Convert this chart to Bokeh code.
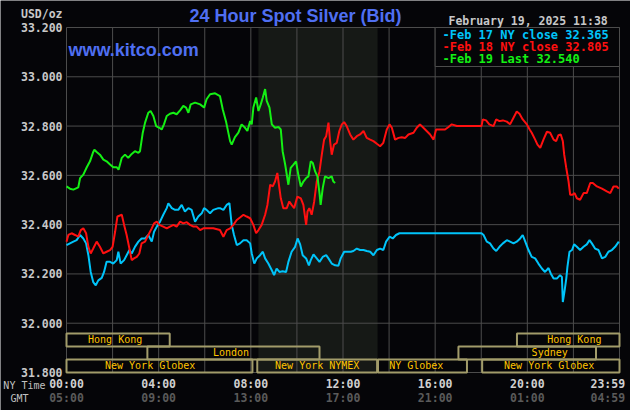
from bokeh.plotting import figure
from bokeh.models import BoxAnnotation, ColumnDataSource
from bokeh.core.properties import value
from bokeh.embed import file_html
from bokeh.resources import INLINE

# ---------------- data ----------------
y_ticks = [31.8, 32.0, 32.2, 32.4, 32.6, 32.8, 33.0, 33.2]
y_tick_labels = ["31.800", "32.000", "32.200", "32.400", "32.600", "32.800", "33.000", "33.200"]
grid_hours = [0, 2, 4, 6, 8, 10, 12, 14, 16, 18, 20, 22, 24]
time_ticks = [0, 4, 8, 12, 16, 20, 23.983]
ny_time_labels = ["00:00", "04:00", "08:00", "12:00", "16:00", "20:00", "23:59"]
gmt_labels = ["05:00", "09:00", "13:00", "17:00", "21:00", "01:00", "04:59"]

# Feb 17 (cyan)
feb17_hours = [0.0, 0.15, 0.30, 0.44, 0.59, 0.73, 0.85, 0.95, 1.05, 1.16,
               1.27, 1.38, 1.53, 1.63, 1.74, 1.89, 2.03, 2.18, 2.25, 2.35,
               2.50, 2.61, 2.73, 2.83, 2.97, 3.12, 3.26, 3.41, 3.55, 3.70,
               3.80, 3.92, 4.06, 4.20, 4.35, 4.42, 4.57, 4.71, 4.85, 5.00,
               5.14, 5.29, 5.43, 5.58, 5.72, 5.87, 5.97, 6.08, 6.23, 6.37,
               6.59,
               6.66, 6.81, 6.95, 7.07, 7.17, 7.27, 7.39, 7.53, 7.68, 7.82,
               7.97, 8.04, 8.15, 8.26, 8.40, 8.52, 8.62, 8.76, 8.91, 9.01,
               9.12, 9.24, 9.38, 9.53, 9.63, 9.77, 9.92, 10.03, 10.14, 10.25,
               10.40, 10.52, 10.60, 10.72, 10.86, 10.98, 11.12, 11.27, 11.37, 11.51,
               11.66, 11.80, 11.90, 12.05, 12.19, 12.34, 12.45, 12.60, 12.74, 12.89,
               13.03, 13.18, 13.32, 13.47, 13.61, 13.75, 13.87, 14.02, 14.16, 14.30,
               14.45, 14.55,
               18.01, 18.10, 18.24, 18.38, 18.53, 18.65, 18.79, 18.94, 19.11, 19.25,
               19.40, 19.54, 19.69, 19.80, 19.91, 20.05, 20.19, 20.34, 20.48, 20.63,
               20.77, 20.92, 21.02, 21.14, 21.28, 21.42, 21.50, 21.54, 21.61, 21.69,
               21.74, 21.83, 21.94, 22.03, 22.15, 22.29, 22.44, 22.58, 22.70, 22.80,
               22.94, 23.09, 23.24, 23.38, 23.52, 23.67, 23.81, 23.97]
feb17_price = [32.317, 32.324, 32.331, 32.337, 32.358, 32.344, 32.324, 32.276, 32.208, 32.167,
               32.154, 32.174, 32.184, 32.208, 32.249, 32.249, 32.242, 32.256, 32.290, 32.242,
               32.256, 32.276, 32.297, 32.283, 32.310, 32.331, 32.344, 32.344, 32.358, 32.331,
               32.371, 32.392, 32.412, 32.440, 32.467, 32.487, 32.467, 32.460, 32.460, 32.480,
               32.453, 32.467, 32.460, 32.412, 32.433, 32.446, 32.467, 32.460, 32.446, 32.460,
               32.467,
               32.467, 32.460, 32.480, 32.487, 32.399, 32.358, 32.317, 32.324, 32.337, 32.337,
               32.324, 32.283, 32.242, 32.263, 32.276, 32.290, 32.263, 32.242, 32.215, 32.195,
               32.222, 32.208, 32.211, 32.208, 32.249, 32.290, 32.310, 32.344, 32.320, 32.276,
               32.263, 32.235, 32.256, 32.279, 32.263, 32.249, 32.269, 32.276, 32.263, 32.242,
               32.235, 32.233, 32.263, 32.290, 32.290, 32.290, 32.293, 32.303, 32.297, 32.297,
               32.293, 32.290, 32.276, 32.297, 32.303, 32.297, 32.331, 32.351, 32.344, 32.358,
               32.365, 32.365,
               32.365, 32.358, 32.331, 32.324, 32.303, 32.293, 32.310, 32.324, 32.337, 32.331,
               32.324, 32.331, 32.344, 32.358, 32.331, 32.297, 32.269, 32.263, 32.242, 32.222,
               32.208, 32.224, 32.201, 32.181, 32.181, 32.195, 32.188, 32.086, 32.127, 32.181,
               32.229, 32.290, 32.297, 32.320, 32.310, 32.297, 32.310, 32.320, 32.337, 32.324,
               32.303, 32.297, 32.263, 32.269, 32.290, 32.297, 32.310, 32.331]

# Feb 18 (red)
feb18_hours = [0.0, 0.08, 0.22, 0.37, 0.51, 0.62, 0.73, 0.85, 0.95, 1.05,
               1.16, 1.31, 1.45, 1.60, 1.74, 1.89, 2.00, 2.11, 2.21, 2.40,
               2.50, 2.61, 2.73, 2.83, 2.93, 3.05, 3.16, 3.26, 3.41, 3.55,
               3.70, 3.80, 3.92, 4.03, 4.20, 4.35, 4.49, 4.64, 4.78, 4.93,
               5.07, 5.22, 5.36, 5.51, 5.65, 5.80, 5.94, 6.16, 6.37, 6.66,
               6.81, 6.95, 7.10, 7.24, 7.39, 7.53, 7.68, 7.82, 7.97, 8.11,
               8.23, 8.33, 8.47, 8.62, 8.72, 8.84, 8.95, 9.05, 9.15, 9.24,
               9.30, 9.41, 9.56, 9.67, 9.77, 9.88, 10.02, 10.17, 10.28, 10.40,
               10.46, 10.54, 10.64, 10.75, 10.86, 10.98, 11.08, 11.18, 11.27, 11.37,
               11.44, 11.51, 11.61, 11.73, 11.84, 11.95, 12.05, 12.16, 12.31, 12.45,
               12.60, 12.74, 12.89, 13.03, 13.18, 13.32, 13.47, 13.61, 13.75, 13.90,
               14.02, 14.12, 14.26, 14.41, 14.55, 14.70, 14.84,
               15.06, 15.20, 15.34, 15.49, 15.63, 15.78, 15.93, 16.04, 16.22, 16.43,
               16.58, 16.72, 16.94, 17.23, 17.51, 18.01, 18.07, 18.21, 18.35, 18.53,
               18.65, 18.79, 18.94, 19.11, 19.25, 19.40, 19.54, 19.66, 19.80, 19.98,
               20.10, 20.19, 20.34, 20.44, 20.56, 20.70, 20.85, 20.99, 21.14, 21.25,
               21.35, 21.45, 21.54, 21.60, 21.69, 21.79, 21.86, 21.96, 22.05, 22.15,
               22.29, 22.44, 22.58, 22.73, 22.84, 23.02, 23.24, 23.45, 23.60, 23.74,
               23.88, 23.97]
feb18_price = [32.331, 32.358, 32.365, 32.358, 32.351, 32.378, 32.385, 32.365, 32.310, 32.283,
               32.303, 32.331, 32.310, 32.283, 32.290, 32.297, 32.310, 32.371, 32.433, 32.440,
               32.399, 32.358, 32.303, 32.256, 32.263, 32.269, 32.283, 32.324, 32.331, 32.358,
               32.385, 32.405, 32.412, 32.399, 32.392, 32.385, 32.392, 32.399, 32.392, 32.412,
               32.405, 32.410, 32.399, 32.392, 32.392, 32.378, 32.385, 32.385, 32.385, 32.378,
               32.351, 32.378, 32.385, 32.399, 32.419, 32.429, 32.440, 32.433, 32.426, 32.399,
               32.365, 32.378, 32.399, 32.440, 32.480, 32.562, 32.555, 32.575, 32.610, 32.548,
               32.507, 32.467, 32.467, 32.494, 32.480, 32.467, 32.514, 32.507, 32.480, 32.399,
               32.453, 32.467, 32.440, 32.494, 32.575, 32.616, 32.684, 32.745, 32.759, 32.814,
               32.739, 32.684, 32.725, 32.732, 32.780, 32.807, 32.816, 32.800, 32.766, 32.745,
               32.759, 32.766, 32.780, 32.752, 32.745, 32.739, 32.728, 32.718, 32.732, 32.786,
               32.807, 32.793, 32.745, 32.752, 32.755, 32.752, 32.766,
               32.773, 32.793, 32.807, 32.793, 32.780, 32.766, 32.745, 32.786, 32.786, 32.786,
               32.796, 32.807, 32.800, 32.800, 32.800, 32.800, 32.827, 32.823, 32.807, 32.800,
               32.827, 32.820, 32.823, 32.818, 32.807, 32.834, 32.859, 32.850, 32.827, 32.807,
               32.786, 32.773, 32.745, 32.725, 32.712, 32.745, 32.777, 32.773, 32.745, 32.739,
               32.763, 32.766, 32.739, 32.684, 32.630, 32.575, 32.521, 32.521, 32.528, 32.507,
               32.501, 32.528, 32.528, 32.569, 32.569, 32.555, 32.546, 32.535, 32.528, 32.555,
               32.555, 32.546]

# Feb 19 (green)
feb19_hours = [0.0, 0.15, 0.30, 0.51, 0.59, 0.73, 0.88, 1.02, 1.16, 1.21,
               1.31, 1.45, 1.60, 1.74, 1.89, 2.03, 2.18, 2.26, 2.40, 2.54,
               2.68, 2.83, 2.97, 3.12, 3.19, 3.31, 3.41, 3.55, 3.65, 3.77,
               3.89, 4.03, 4.13, 4.23, 4.35, 4.49, 4.64, 4.78, 4.93, 5.07,
               5.19, 5.29, 5.39, 5.58, 5.80, 5.97, 6.08, 6.23, 6.45, 6.66,
               6.78, 6.92, 7.10, 7.17, 7.31, 7.46, 7.60, 7.75, 7.85, 7.97,
               8.04, 8.11, 8.23, 8.33, 8.43, 8.52, 8.62, 8.69, 8.81, 8.91,
               9.05, 9.20, 9.30, 9.38, 9.49, 9.63, 9.73, 9.85, 9.96, 10.06,
               10.17, 10.28, 10.40, 10.50, 10.60, 10.69, 10.79, 10.89, 10.98, 11.03,
               11.12, 11.22, 11.37, 11.51, 11.58, 11.66]
feb19_price = [32.555, 32.546, 32.542, 32.551, 32.589, 32.603, 32.633, 32.657, 32.695, 32.704,
               32.695, 32.684, 32.664, 32.657, 32.644, 32.633, 32.633, 32.623, 32.671, 32.684,
               32.671, 32.687, 32.698, 32.691, 32.698, 32.773, 32.814, 32.854, 32.861, 32.841,
               32.800, 32.793, 32.786, 32.807, 32.841, 32.850, 32.854, 32.848, 32.864, 32.882,
               32.875, 32.854, 32.888, 32.895, 32.888, 32.875, 32.909, 32.929, 32.933, 32.922,
               32.868, 32.820, 32.739, 32.725, 32.755, 32.773, 32.807, 32.793, 32.780, 32.820,
               32.807, 32.875, 32.916, 32.861, 32.888, 32.916, 32.950, 32.902, 32.875, 32.807,
               32.793, 32.796, 32.786, 32.698, 32.644, 32.562, 32.630, 32.644, 32.657, 32.603,
               32.555, 32.575, 32.589, 32.596, 32.657, 32.650, 32.616, 32.596, 32.528, 32.480,
               32.548, 32.596, 32.589, 32.596, 32.575, 32.569]

legend_texts = ["-Feb 17 NY close 32.365", "-Feb 18 NY close 32.805", "-Feb 19 Last 32.540"]

session_names = ["Hong Kong", "Hong Kong", "London", "Sydney",
                 "New York Globex", "New York NYMEX", "NY Globex", "New York Globex"]
session_start = [0.0, 19.55, 3.51, 17.01, 0.0, 8.28, 13.52, 18.04]
session_end = [4.48, 24.0, 10.98, 22.98, 8.07, 13.48, 17.38, 24.0]
session_row = [2, 2, 1, 1, 0, 0, 0, 0]
session_label_at = [2.11, 22.04, 7.14, 20.97, 3.63, 10.88, 15.18, 20.95]

nymex_open, nymex_close = 8.33, 13.5

assert len(feb17_hours) == len(feb17_price)
assert len(feb18_hours) == len(feb18_price)
assert len(feb19_hours) == len(feb19_price)

# ---------------- layout ----------------
W, H = 630, 410
FL, FR, FT, FB = 66, 619, 27, 372          # chart area in canvas pixels
X0, X1, Y0, Y1 = 0.0, 24.0, 31.8, 33.2     # chart area in data units


def hx(px):
    return X0 + (px - FL) / (FR - FL) * (X1 - X0)


def py(px):
    return Y1 - (px - FT) / (FB - FT) * (Y1 - Y0)


BG = "#050508"
GRID = "#4c4c4c"
MONO = "DejaVu Sans Mono"
CYAN, RED, GREEN = "#00c4fa", "#ff1010", "#14f014"

# the frame covers the whole canvas so that every text can be drawn
p = figure(width=W, height=H, x_range=(hx(0), hx(W)), y_range=(py(H), py(0)),
           output_backend="svg", toolbar_location=None,
           x_axis_location=None, y_axis_location=None,
           min_border=0, min_border_left=0, min_border_right=0,
           min_border_top=0, min_border_bottom=0)
p.background_fill_color = BG
p.border_fill_color = BG
p.outline_line_color = None
p.grid.visible = False

# NYMEX shading
p.add_layout(BoxAnnotation(left=nymex_open, right=nymex_close, bottom=Y0, top=Y1,
                           fill_color="#161916", fill_alpha=1.0, line_alpha=0,
                           level="image"))

# grid lines, bounded to the chart area
p.segment(x0=grid_hours, x1=grid_hours, y0=[Y0] * len(grid_hours), y1=[Y1] * len(grid_hours),
          line_color=GRID, line_width=1, level="underlay")
p.segment(x0=[X0] * len(y_ticks), x1=[X1] * len(y_ticks), y0=y_ticks, y1=y_ticks,
          line_color=GRID, line_width=1, level="underlay")

# y tick labels
p.text(x=[hx(62)] * len(y_ticks), y=y_ticks, text=y_tick_labels, text_font=value(MONO),
       text_font_size=value("11.5px"), text_font_style="bold", text_color="#c8c8c8",
       text_align="right", text_baseline="middle")

# sessions
ROW_H = 0.0528
sess = ColumnDataSource(dict(
    left=session_start, right=session_end,
    bottom=[Y0 + r * ROW_H for r in session_row],
    top=[Y0 + (r + 1) * ROW_H for r in session_row],
    lx=session_label_at, ly=[Y0 + (r + 0.5) * ROW_H for r in session_row],
    name=session_names))
p.quad(left="left", right="right", bottom="bottom", top="top", source=sess,
       fill_alpha=0, line_color="#a29c6a", line_width=2)
p.text(x="lx", y="ly", text="name", source=sess, text_font=value(MONO),
       text_font_size=value("10px"), text_color="#ffc400", text_align="center",
       text_baseline="middle")

# price lines
p.line(feb17_hours, feb17_price, line_color=CYAN, line_width=2)
p.line(feb18_hours, feb18_price, line_color=RED, line_width=2)
p.line(feb19_hours, feb19_price, line_color=GREEN, line_width=2)

# legend box
p.quad(left=[16.0], right=[X1], bottom=[py(66)], top=[Y1], fill_color=BG,
       line_color=GRID, line_width=1)
p.text(x=[hx(442)] * 3, y=[py(34), py(46), py(58.5)], text=legend_texts,
       text_color=[CYAN, RED, GREEN], text_font=value(MONO), text_font_size=value("12px"),
       text_font_style="bold", text_align="left", text_baseline="middle")

# titles and captions
p.text(x=[hx(295)], y=[py(15.5)], text=["24 Hour Spot Silver (Bid)"],
       text_font=value("Liberation Sans"), text_font_size=value("18px"),
       text_font_style="bold", text_color="#4f6ff2", text_align="center",
       text_baseline="middle")
p.text(x=[hx(68)], y=[py(49.5)], text=["www.kitco.com"],
       text_font=value("Liberation Sans"), text_font_size=value("18px"),
       text_font_style="bold", text_color="#4f6ff2", text_align="left",
       text_baseline="middle")
p.text(x=[hx(448)], y=[py(20)], text=["February 19, 2025 11:38"],
       text_font=value(MONO), text_font_size=value("11.5px"), text_font_style="bold",
       text_color="#c8c8c8", text_align="left", text_baseline="middle")
p.text(x=[hx(62)], y=[py(13)], text=["USD/oz"],
       text_font=value(MONO), text_font_size=value("11.5px"), text_font_style="bold",
       text_color="#c8c8c8", text_align="right", text_baseline="middle")
p.text(x=[hx(45), hx(28)], y=[py(385), py(397.5)], text=["NY Time", "GMT"],
       text_font=value(MONO), text_font_size=value("10px"), text_color="#c0c0c0",
       text_align="right", text_baseline="middle")

# time labels (NY and GMT)
n = len(time_ticks) - 1
p.text(x=time_ticks[:n], y=[py(383.5)] * n, text=ny_time_labels[:n],
       text_font=value(MONO), text_font_size=value("11.5px"), text_font_style="bold",
       text_color="#d0d0d0", text_align="center", text_baseline="middle")
p.text(x=time_ticks[:n], y=[py(397.5)] * n, text=gmt_labels[:n],
       text_font=value(MONO), text_font_size=value("11.5px"), text_font_style="bold",
       text_color="#5a5a5a", text_align="center", text_baseline="middle")
p.text(x=[time_ticks[n]], y=[py(383.5)], text=[ny_time_labels[n]], x_offset=6,
       text_font=value(MONO), text_font_size=value("11.5px"), text_font_style="bold",
       text_color="#d0d0d0", text_align="right", text_baseline="middle")
p.text(x=[time_ticks[n]], y=[py(397.5)], text=[gmt_labels[n]], x_offset=6,
       text_font=value(MONO), text_font_size=value("11.5px"), text_font_style="bold",
       text_color="#5a5a5a", text_align="right", text_baseline="middle")

open("out.html", "w").write(file_html(p, INLINE))
